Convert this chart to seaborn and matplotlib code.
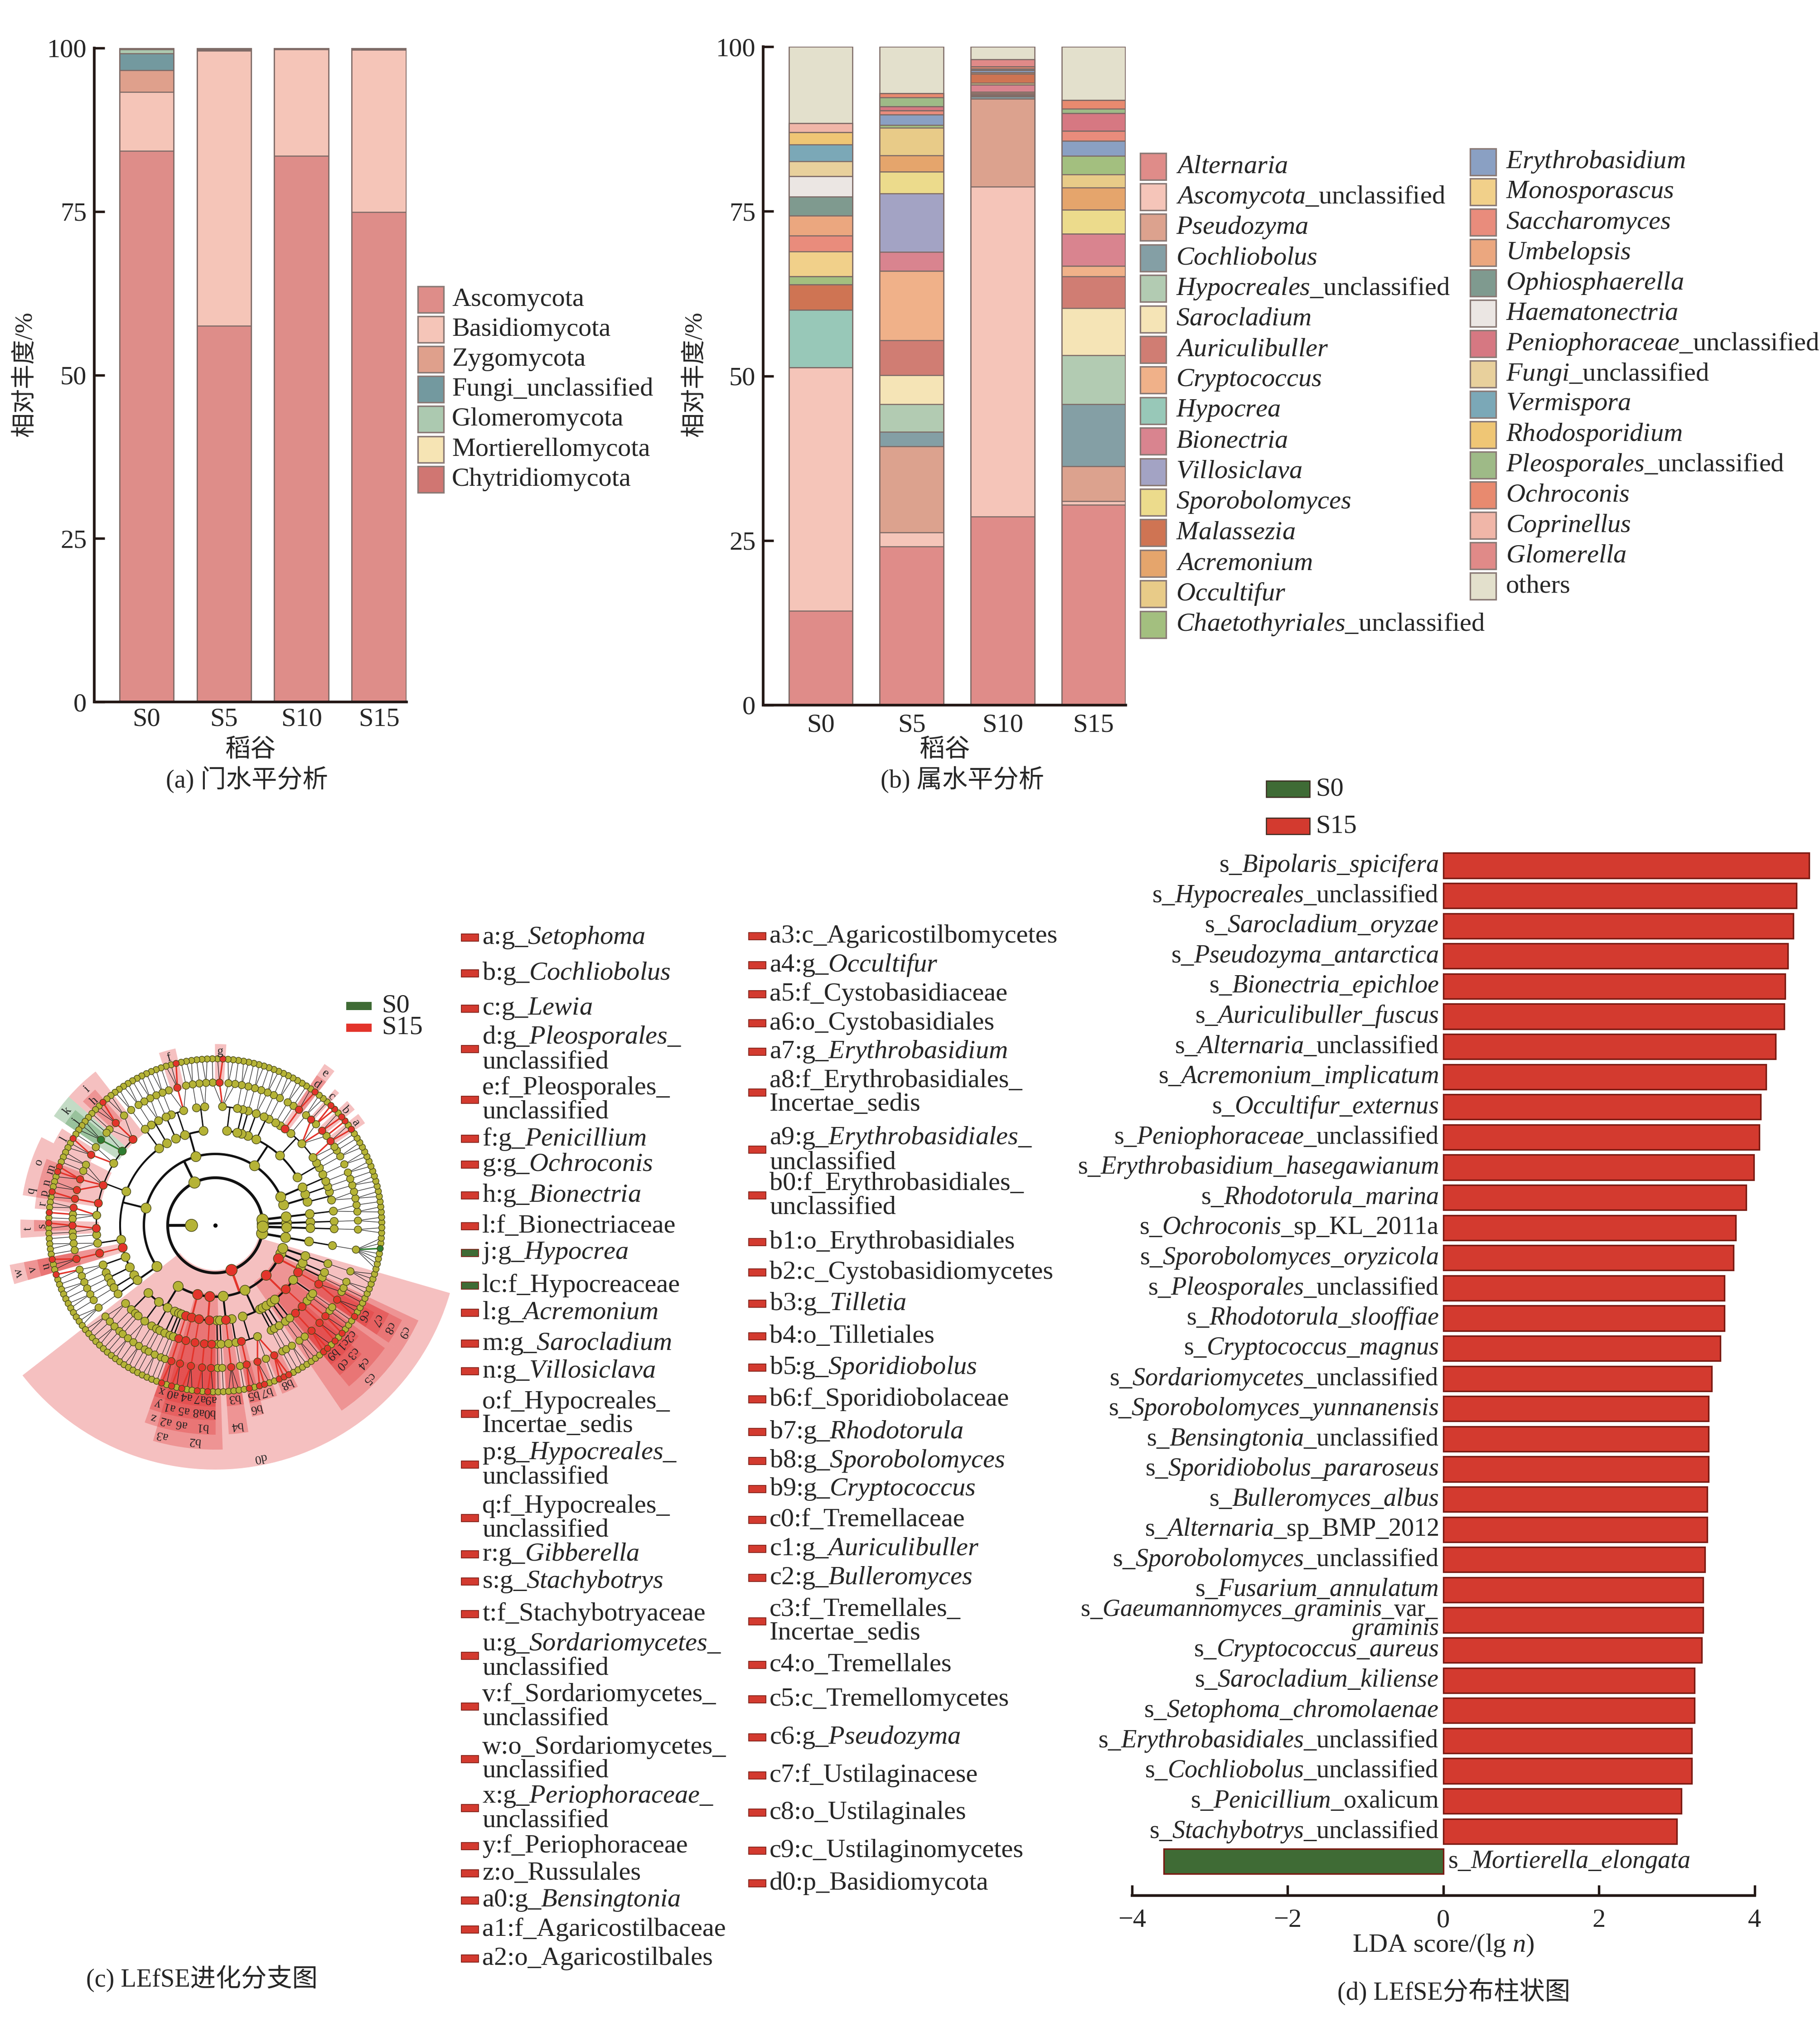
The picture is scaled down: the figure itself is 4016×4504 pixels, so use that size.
import numpy as np
import pandas as pd
import matplotlib
matplotlib.use("Agg")
import matplotlib.pyplot as plt
from matplotlib.patches import Rectangle, Wedge
import seaborn as sns

# ---------------- data ----------------
samples = ["S0", "S5", "S10", "S15"]

# (a) phylum level, relative abundance %
phyla = ["Ascomycota", "Basidiomycota", "Zygomycota", "Fungi_unclassified",
         "Glomeromycota", "Mortierellomycota", "Chytridiomycota"]
phylum_colors = ["#de8d89", "#f5c5b8", "#dfa08c", "#73999f", "#acc9b0", "#f6e4b4", "#d07672"]
phylum_S0 = [84.3, 9.0, 3.3, 2.6, 0.6, 0.1, 0.1]
phylum_S5 = [57.5, 42.1, 0.1, 0.1, 0.1, 0.1, 0.0]
phylum_S10 = [83.5, 16.3, 0.1, 0.1, 0.0, 0.0, 0.0]
phylum_S15 = [74.9, 24.8, 0.1, 0.1, 0.1, 0.0, 0.0]

# (b) genus level, relative abundance %  (*...* = italic)
genera = ["*Alternaria*", "*Ascomycota*_unclassified", "*Pseudozyma*", "*Cochliobolus*",
          "*Hypocreales*_unclassified", "*Sarocladium*", "*Auriculibuller*", "*Cryptococcus*",
          "*Hypocrea*", "*Bionectria*", "*Villosiclava*", "*Sporobolomyces*", "*Malassezia*",
          "*Acremonium*", "*Occultifur*", "*Chaetothyriales*_unclassified",
          "*Erythrobasidium*", "*Monosporascus*", "*Saccharomyces*", "*Umbelopsis*",
          "*Ophiosphaerella*", "*Haematonectria*", "*Peniophoraceae*_unclassified",
          "*Fungi*_unclassified", "*Vermispora*", "*Rhodosporidium*",
          "*Pleosporales*_unclassified", "*Ochroconis*", "*Coprinellus*", "*Glomerella*", "others"]
genus_colors = ["#df8c89", "#f5c5b9", "#dca28e", "#849fa5", "#b2cbb2", "#f5e4b6", "#d07d73",
                "#f0b189", "#98c8b8", "#d9848f", "#a3a3c4", "#ecdb8c", "#cf7453", "#e5a56c",
                "#e8cb88", "#a3bf7f", "#8aa0c3", "#f1d08a", "#e98c7c", "#eba77f", "#7f9a8f",
                "#ebe6e3", "#d67882", "#e8d09c", "#7ba8b7", "#efc675", "#9eba87", "#e88a6f",
                "#f0b6a8", "#e08a88", "#e3e0cc"]
genus_S0 = [14.3, 37.0, 0, 0, 0, 0, 0, 0, 8.7, 0, 0, 0, 3.9, 0, 0, 1.2,
            0, 3.8, 2.4, 3.0, 2.9, 3.1, 0, 2.3, 2.5, 1.9, 0, 0, 1.4, 0, 11.6]
genus_S5 = [24.1, 2.1, 13.1, 2.2, 4.2, 4.4, 5.3, 10.5, 0, 2.9, 8.9, 3.3, 0, 2.5, 4.2, 0.4,
            1.6, 0, 0.6, 0, 0, 0, 0.6, 0, 0, 0, 1.4, 0.6, 0, 0, 7.1]
genus_S10 = [28.6, 50.1, 13.4, 0.3, 0.2, 0.1, 0.2, 0.2, 0, 1.1, 0, 0.3, 1.4, 0.2, 0, 0,
             0.3, 0, 0, 0, 0, 0, 0, 0, 0.2, 0, 0, 0.4, 0, 1.1, 1.9]
genus_S15 = [30.4, 0.6, 5.3, 9.4, 7.4, 7.2, 4.8, 1.6, 0, 4.9, 0, 3.6, 0, 3.4, 2.0, 2.8,
             2.3, 0, 1.5, 0, 0, 0, 2.7, 0, 0, 0, 0.7, 1.3, 0, 0, 8.1]

# (c) cladogram: phylum, class, order, family, genus, number of species
fungal_genera = [
    ("Chytridiomycota", "Chytridiomycetes", "Rhizophydiales", "Rhizophydiaceae", "Rhizophydium", 2),
    ("Glomeromycota", "Glomeromycetes", "Glomerales", "Glomeraceae", "Glomus", 2),
    ("Glomeromycota", "Glomeromycetes", "Glomerales", "Glomeraceae", "Rhizophagus", 1),
    ("Ascomycota", "Leotiomycetes", "Helotiales", "Helotiaceae", "Cadophora", 2),
    ("Ascomycota", "Leotiomycetes", "Helotiales", "Helotiaceae", "Hymenoscyphus", 1),
    ("Ascomycota", "Leotiomycetes", "Helotiales", "Helotiales_unclassified", "Helotiales_unclassified", 2),
    ("Ascomycota", "Leotiomycetes", "Erysiphales", "Erysiphaceae", "Erysiphe", 1),
    ("Ascomycota", "Saccharomycetes", "Saccharomycetales", "Saccharomycetaceae", "Saccharomyces", 2),
    ("Ascomycota", "Saccharomycetes", "Saccharomycetales", "Debaryomycetaceae", "Candida", 2),
    ("Ascomycota", "Dothideomycetes", "Capnodiales", "Cladosporiaceae", "Cladosporium", 2),
    ("Ascomycota", "Dothideomycetes", "Capnodiales", "Mycosphaerellaceae", "Mycosphaerella", 1),
    ("Ascomycota", "Dothideomycetes", "Pleosporales", "Phaeosphaeriaceae", "Phaeosphaeria", 1),
    ("Ascomycota", "Dothideomycetes", "Pleosporales", "Phaeosphaeriaceae", "Setophoma", 2),
    ("Ascomycota", "Dothideomycetes", "Pleosporales", "Pleosporaceae", "Bipolaris", 1),
    ("Ascomycota", "Dothideomycetes", "Pleosporales", "Pleosporaceae", "Cochliobolus", 2),
    ("Ascomycota", "Dothideomycetes", "Pleosporales", "Pleosporaceae", "Alternaria", 2),
    ("Ascomycota", "Dothideomycetes", "Pleosporales", "Pleosporaceae", "Lewia", 1),
    ("Ascomycota", "Dothideomycetes", "Pleosporales", "Didymellaceae", "Epicoccum", 2),
    ("Ascomycota", "Dothideomycetes", "Pleosporales", "Pleosporales_unclassified", "Pleosporales_unclassified", 2),
    ("Ascomycota", "Dothideomycetes", "Pleosporales", "Lentitheciaceae", "Lentithecium", 1),
    ("Ascomycota", "Dothideomycetes", "Pleosporales", "Didymosphaeriaceae", "Paraconiothyrium", 2),
    ("Ascomycota", "Dothideomycetes", "Dothideales", "Saccotheciaceae", "Aureobasidium", 2),
    ("Ascomycota", "Dothideomycetes", "Dothideales", "Dothideaceae", "Dothiora", 1),
    ("Ascomycota", "Dothideomycetes", "Botryosphaeriales", "Botryosphaeriaceae", "Botryosphaeria", 2),
    ("Ascomycota", "Dothideomycetes", "Botryosphaeriales", "Botryosphaeriaceae", "Macrophomina", 1),
    ("Ascomycota", "Dothideomycetes", "Hysteriales", "Hysteriaceae", "Hysterobrevium", 2),
    ("Ascomycota", "Dothideomycetes", "Myriangiales", "Myriangiaceae", "Myriangium", 1),
    ("Ascomycota", "Dothideomycetes", "Venturiales", "Venturiaceae", "Venturia", 2),
    ("Ascomycota", "Dothideomycetes", "Venturiales", "Sympoventuriaceae", "Sympoventuria", 1),
    ("Ascomycota", "Dothideomycetes", "Venturiales", "Sympoventuriaceae", "Scolecobasidium", 2),
    ("Ascomycota", "Dothideomycetes", "Venturiales", "Sympoventuriaceae", "Ochroconis", 2),
    ("Ascomycota", "Dothideomycetes", "Venturiales", "Sympoventuriaceae", "Veronaeopsis", 1),
    ("Ascomycota", "Eurotiomycetes", "Chaetothyriales", "Herpotrichiellaceae", "Exophiala", 2),
    ("Ascomycota", "Eurotiomycetes", "Chaetothyriales", "Herpotrichiellaceae", "Cladophialophora", 1),
    ("Ascomycota", "Eurotiomycetes", "Chaetothyriales", "Chaetothyriales_unclassified", "Chaetothyriales_unclassified", 2),
    ("Ascomycota", "Eurotiomycetes", "Eurotiales", "Aspergillaceae", "Aspergillus", 1),
    ("Ascomycota", "Eurotiomycetes", "Eurotiales", "Aspergillaceae", "Penicillium", 3),
    ("Ascomycota", "Eurotiomycetes", "Eurotiales", "Aspergillaceae", "Monascus", 1),
    ("Ascomycota", "Eurotiomycetes", "Eurotiales", "Trichocomaceae", "Talaromyces", 2),
    ("Ascomycota", "Eurotiomycetes", "Onygenales", "Onygenaceae", "Chrysosporium", 1),
    ("Ascomycota", "Sordariomycetes", "Sordariales", "Chaetomiaceae", "Chaetomium", 2),
    ("Ascomycota", "Sordariomycetes", "Sordariales", "Chaetomiaceae", "Humicola", 1),
    ("Ascomycota", "Sordariomycetes", "Sordariales", "Lasiosphaeriaceae", "Podospora", 2),
    ("Ascomycota", "Sordariomycetes", "Glomerellales", "Glomerellaceae", "Colletotrichum", 2),
    ("Ascomycota", "Sordariomycetes", "Hypocreales", "Bionectriaceae", "Clonostachys", 2),
    ("Ascomycota", "Sordariomycetes", "Hypocreales", "Bionectriaceae", "Bionectria", 3),
    ("Ascomycota", "Sordariomycetes", "Hypocreales", "Bionectriaceae", "Stilbocrea", 1),
    ("Ascomycota", "Sordariomycetes", "Hypocreales", "Hypocreaceae", "Trichoderma", 1),
    ("Ascomycota", "Sordariomycetes", "Hypocreales", "Hypocreaceae", "Hypocrea", 3),
    ("Ascomycota", "Sordariomycetes", "Hypocreales", "Cordycipitaceae", "Beauveria", 1),
    ("Ascomycota", "Sordariomycetes", "Hypocreales", "Cordycipitaceae", "Acremonium", 3),
    ("Ascomycota", "Sordariomycetes", "Hypocreales", "Hypocreales_Incertae_sedis", "Emericellopsis", 2),
    ("Ascomycota", "Sordariomycetes", "Hypocreales", "Hypocreales_Incertae_sedis", "Myrothecium", 1),
    ("Ascomycota", "Sordariomycetes", "Hypocreales", "Hypocreales_Incertae_sedis", "Sarocladium", 3),
    ("Ascomycota", "Sordariomycetes", "Hypocreales", "Hypocreales_Incertae_sedis", "Villosiclava", 2),
    ("Ascomycota", "Sordariomycetes", "Hypocreales", "Hypocreales_unclassified", "Hypocreales_unclassified", 2),
    ("Ascomycota", "Sordariomycetes", "Hypocreales", "Nectriaceae", "Gibberella", 2),
    ("Ascomycota", "Sordariomycetes", "Hypocreales", "Nectriaceae", "Fusarium", 1),
    ("Ascomycota", "Sordariomycetes", "Hypocreales", "Nectriaceae", "Neonectria", 1),
    ("Ascomycota", "Sordariomycetes", "Hypocreales", "Stachybotryaceae", "Stachybotrys", 2),
    ("Ascomycota", "Sordariomycetes", "Hypocreales", "Stachybotryaceae", "Memnoniella", 1),
    ("Ascomycota", "Sordariomycetes", "Hypocreales", "Clavicipitaceae", "Metarhizium", 1),
    ("Ascomycota", "Sordariomycetes", "Microascales", "Microascaceae", "Scedosporium", 2),
    ("Ascomycota", "Sordariomycetes", "Microascales", "Microascaceae", "Microascus", 1),
    ("Ascomycota", "Sordariomycetes", "Sordariomycetes_unclassified", "Sordariomycetes_unclassified", "Sordariomycetes_unclassified", 3),
    ("Ascomycota", "Sordariomycetes", "Magnaporthales", "Magnaporthaceae", "Gaeumannomyces", 2),
    ("Ascomycota", "Sordariomycetes", "Magnaporthales", "Magnaporthaceae", "Magnaporthiopsis", 1),
    ("Ascomycota", "Sordariomycetes", "Xylariales", "Xylariaceae", "Xylaria", 2),
    ("Ascomycota", "Sordariomycetes", "Xylariales", "Sporocadaceae", "Pestalotiopsis", 1),
    ("Ascomycota", "Sordariomycetes", "Xylariales", "Apiosporaceae", "Arthrinium", 2),
    ("Ascomycota", "Sordariomycetes", "Coniochaetales", "Coniochaetaceae", "Coniochaeta", 1),
    ("Ascomycota", "Ascomycota_unclassified", "Ascomycota_unclassified", "Ascomycota_unclassified", "Ascomycota_unclassified", 3),
    ("Basidiomycota", "Agaricomycetes", "Agaricales", "Psathyrellaceae", "Coprinellus", 2),
    ("Basidiomycota", "Agaricomycetes", "Agaricales", "Psathyrellaceae", "Psathyrella", 1),
    ("Basidiomycota", "Agaricomycetes", "Agaricales", "Agaricaceae", "Agaricus", 2),
    ("Basidiomycota", "Agaricomycetes", "Agaricales", "Tricholomataceae", "Clitocybe", 1),
    ("Basidiomycota", "Agaricomycetes", "Agaricales", "Strophariaceae", "Hypholoma", 1),
    ("Basidiomycota", "Agaricomycetes", "Cantharellales", "Ceratobasidiaceae", "Rhizoctonia", 2),
    ("Basidiomycota", "Agaricomycetes", "Cantharellales", "Ceratobasidiaceae", "Ceratobasidium", 1),
    ("Basidiomycota", "Agaricomycetes", "Polyporales", "Polyporaceae", "Trametes", 2),
    ("Basidiomycota", "Agaricomycetes", "Polyporales", "Meruliaceae", "Phlebia", 1),
    ("Basidiomycota", "Agaricomycetes", "Polyporales", "Phanerochaetaceae", "Phanerochaete", 1),
    ("Basidiomycota", "Agaricomycetes", "Trechisporales", "Hydnodontaceae", "Trechispora", 2),
    ("Basidiomycota", "Agaricomycetes", "Hymenochaetales", "Hymenochaetaceae", "Inonotus", 1),
    ("Basidiomycota", "Agaricomycetes", "Auriculariales", "Auriculariaceae", "Auricularia", 1),
    ("Basidiomycota", "Agaricomycetes", "Russulales", "Peniophoraceae", "Peniophoraceae_unclassified", 2),
    ("Basidiomycota", "Agaricostilbomycetes", "Agaricostilbales", "Agaricostilbaceae", "Bensingtonia", 2),
    ("Basidiomycota", "Cystobasidiomycetes", "Cystobasidiales", "Cystobasidiaceae", "Occultifur", 3),
    ("Basidiomycota", "Cystobasidiomycetes", "Erythrobasidiales", "Erythrobasidiales_Incertae_sedis", "Erythrobasidium", 2),
    ("Basidiomycota", "Cystobasidiomycetes", "Erythrobasidiales", "Erythrobasidiales_unclassified", "Erythrobasidiales_unclassified", 2),
    ("Basidiomycota", "Cystobasidiomycetes", "Cyphobasidiales", "Cyphobasidiaceae", "Cyphobasidium", 1),
    ("Basidiomycota", "Exobasidiomycetes", "Exobasidiales", "Exobasidiaceae", "Exobasidium", 1),
    ("Basidiomycota", "Exobasidiomycetes", "Tilletiales", "Tilletiaceae", "Tilletia", 3),
    ("Basidiomycota", "Exobasidiomycetes", "Entylomatales", "Entylomataceae", "Entyloma", 1),
    ("Basidiomycota", "Microbotryomycetes", "Sporidiobolales", "Sporidiobolaceae", "Sporidiobolus", 2),
    ("Basidiomycota", "Microbotryomycetes", "Sporidiobolales", "Sporidiobolales_Incertae_sedis", "Rhodotorula", 3),
    ("Basidiomycota", "Microbotryomycetes", "Sporidiobolales", "Sporidiobolales_Incertae_sedis", "Rhodosporidium", 1),
    ("Basidiomycota", "Microbotryomycetes", "Sporidiobolales", "Sporidiobolales_Incertae_sedis", "Sporobolomyces", 3),
    ("Basidiomycota", "Microbotryomycetes", "Leucosporidiales", "Leucosporidiaceae", "Leucosporidium", 1),
    ("Basidiomycota", "Microbotryomycetes", "Microbotryales", "Microbotryaceae", "Microbotryum", 1),
    ("Basidiomycota", "Microbotryomycetes", "Kriegeriales", "Kriegeriaceae", "Kriegeria", 2),
    ("Basidiomycota", "Tremellomycetes", "Filobasidiales", "Filobasidiaceae", "Filobasidium", 2),
    ("Basidiomycota", "Tremellomycetes", "Cystofilobasidiales", "Mrakiaceae", "Mrakia", 1),
    ("Basidiomycota", "Tremellomycetes", "Tremellales", "Tremellaceae", "Cryptococcus", 3),
    ("Basidiomycota", "Tremellomycetes", "Tremellales", "Tremellales_Incertae_sedis", "Auriculibuller", 2),
    ("Basidiomycota", "Tremellomycetes", "Tremellales", "Bulleribasidiaceae", "Bulleromyces", 2),
    ("Basidiomycota", "Tremellomycetes", "Tremellales", "Trimorphomycetaceae", "Saitozyma", 1),
    ("Basidiomycota", "Tremellomycetes", "Trichosporonales", "Trichosporonaceae", "Trichosporon", 1),
    ("Basidiomycota", "Ustilaginomycetes", "Ustilaginales", "Ustilaginaceae", "Pseudozyma", 3),
    ("Basidiomycota", "Ustilaginomycetes", "Ustilaginales", "Ustilaginaceae", "Ustilago", 1),
    ("Basidiomycota", "Ustilaginomycetes", "Urocystidales", "Urocystidaceae", "Urocystis", 1),
    ("Basidiomycota", "Wallemiomycetes", "Wallemiales", "Wallemiaceae", "Wallemia", 2),
    ("Basidiomycota", "Basidiomycota_unclassified", "Basidiomycota_unclassified", "Basidiomycota_unclassified", "Basidiomycota_unclassified", 3),
    ("Mortierellomycota", "Mortierellomycetes", "Mortierellales", "Mortierellaceae", "Mortierella", 7),
    ("Mucoromycota", "Mucoromycetes", "Mucorales", "Mucoraceae", "Mucor", 2),
]
# biomarker clades: label, rank, taxon, enriched group
clade_marks = [
    ("a", "g", "Setophoma", "S15"), ("b", "g", "Cochliobolus", "S15"), ("c", "g", "Lewia", "S15"),
    ("d", "g", "Pleosporales_unclassified", "S15"), ("e", "f", "Pleosporales_unclassified", "S15"),
    ("f", "g", "Penicillium", "S15"), ("g", "g", "Ochroconis", "S15"), ("h", "g", "Bionectria", "S15"),
    ("i", "f", "Bionectriaceae", "S15"), ("j", "g", "Hypocrea", "S0"), ("k", "f", "Hypocreaceae", "S0"),
    ("l", "g", "Acremonium", "S15"), ("m", "g", "Sarocladium", "S15"), ("n", "g", "Villosiclava", "S15"),
    ("o", "f", "Hypocreales_Incertae_sedis", "S15"), ("p", "g", "Hypocreales_unclassified", "S15"),
    ("q", "f", "Hypocreales_unclassified", "S15"), ("r", "g", "Gibberella", "S15"),
    ("s", "g", "Stachybotrys", "S15"), ("t", "f", "Stachybotryaceae", "S15"),
    ("u", "g", "Sordariomycetes_unclassified", "S15"), ("v", "f", "Sordariomycetes_unclassified", "S15"),
    ("w", "o", "Sordariomycetes_unclassified", "S15"), ("x", "g", "Peniophoraceae_unclassified", "S15"),
    ("y", "f", "Peniophoraceae", "S15"), ("z", "o", "Russulales", "S15"),
    ("a0", "g", "Bensingtonia", "S15"), ("a1", "f", "Agaricostilbaceae", "S15"),
    ("a2", "o", "Agaricostilbales", "S15"), ("a3", "c", "Agaricostilbomycetes", "S15"),
    ("a4", "g", "Occultifur", "S15"), ("a5", "f", "Cystobasidiaceae", "S15"),
    ("a6", "o", "Cystobasidiales", "S15"), ("a7", "g", "Erythrobasidium", "S15"),
    ("a8", "f", "Erythrobasidiales_Incertae_sedis", "S15"), ("a9", "g", "Erythrobasidiales_unclassified", "S15"),
    ("b0", "f", "Erythrobasidiales_unclassified", "S15"), ("b1", "o", "Erythrobasidiales", "S15"),
    ("b2", "c", "Cystobasidiomycetes", "S15"), ("b3", "g", "Tilletia", "S15"), ("b4", "o", "Tilletiales", "S15"),
    ("b5", "g", "Sporidiobolus", "S15"), ("b6", "f", "Sporidiobolaceae", "S15"),
    ("b7", "g", "Rhodotorula", "S15"), ("b8", "g", "Sporobolomyces", "S15"),
    ("b9", "g", "Cryptococcus", "S15"), ("c0", "f", "Tremellaceae", "S15"),
    ("c1", "g", "Auriculibuller", "S15"), ("c2", "g", "Bulleromyces", "S15"),
    ("c3", "f", "Tremellales_Incertae_sedis", "S15"), ("c4", "o", "Tremellales", "S15"),
    ("c5", "c", "Tremellomycetes", "S15"), ("c6", "g", "Pseudozyma", "S15"),
    ("c7", "f", "Ustilaginaceae", "S15"), ("c8", "o", "Ustilaginales", "S15"),
    ("c9", "c", "Ustilaginomycetes", "S15"), ("d0", "p", "Basidiomycota", "S15"),
]
# species-level biomarkers: number of S15 species per genus, S0 species position
s15_species = {"Setophoma": 1, "Bipolaris": 1, "Cochliobolus": 1, "Alternaria": 2,
               "Pleosporales_unclassified": 1, "Ochroconis": 1, "Penicillium": 1, "Bionectria": 1,
               "Acremonium": 1, "Sarocladium": 2, "Hypocreales_unclassified": 1, "Fusarium": 1,
               "Stachybotrys": 1, "Sordariomycetes_unclassified": 1, "Gaeumannomyces": 1,
               "Peniophoraceae_unclassified": 1, "Bensingtonia": 1, "Occultifur": 1,
               "Erythrobasidium": 1, "Erythrobasidiales_unclassified": 1, "Sporidiobolus": 1,
               "Rhodotorula": 2, "Sporobolomyces": 3, "Cryptococcus": 2, "Auriculibuller": 1,
               "Bulleromyces": 1, "Pseudozyma": 1}
s0_species = {"Mortierella": 4}

clade_list_col1 = ["a:g_*Setophoma*", "b:g_*Cochliobolus*", "c:g_*Lewia*",
                   "d:g_*Pleosporales*_\nunclassified", "e:f_Pleosporales_\nunclassified",
                   "f:g_*Penicillium*", "g:g_*Ochroconis*", "h:g_*Bionectria*", "l:f_Bionectriaceae",
                   "j:g_*Hypocrea*", "lc:f_Hypocreaceae", "l:g_*Acremonium*", "m:g_*Sarocladium*",
                   "n:g_*Villosiclava*", "o:f_Hypocreales_\nIncertae_sedis",
                   "p:g_*Hypocreales*_\nunclassified", "q:f_Hypocreales_\nunclassified",
                   "r:g_*Gibberella*", "s:g_*Stachybotrys*", "t:f_Stachybotryaceae",
                   "u:g_*Sordariomycetes*_\nunclassified", "v:f_Sordariomycetes_\nunclassified",
                   "w:o_Sordariomycetes_\nunclassified", "x:g_*Periophoraceae*_\nunclassified",
                   "y:f_Periophoraceae", "z:o_Russulales", "a0:g_*Bensingtonia*",
                   "a1:f_Agaricostilbaceae", "a2:o_Agaricostilbales"]
clade_list_col2 = ["a3:c_Agaricostilbomycetes", "a4:g_*Occultifur*", "a5:f_Cystobasidiaceae",
                   "a6:o_Cystobasidiales", "a7:g_*Erythrobasidium*",
                   "a8:f_Erythrobasidiales_\nIncertae_sedis", "a9:g_*Erythrobasidiales*_\nunclassified",
                   "b0:f_Erythrobasidiales_\nunclassified", "b1:o_Erythrobasidiales",
                   "b2:c_Cystobasidiomycetes", "b3:g_*Tilletia*", "b4:o_Tilletiales",
                   "b5:g_*Sporidiobolus*", "b6:f_Sporidiobolaceae", "b7:g_*Rhodotorula*",
                   "b8:g_*Sporobolomyces*", "b9:g_*Cryptococcus*", "c0:f_Tremellaceae",
                   "c1:g_*Auriculibuller*", "c2:g_*Bulleromyces*", "c3:f_Tremellales_\nIncertae_sedis",
                   "c4:o_Tremellales", "c5:c_Tremellomycetes", "c6:g_*Pseudozyma*",
                   "c7:f_Ustilaginacese", "c8:o_Ustilaginales", "c9:c_Ustilaginomycetes",
                   "d0:p_Basidiomycota"]
clade_list_s0 = ["j:g_*Hypocrea*", "lc:f_Hypocreaceae"]

# (d) LDA scores
lda_labels = ["s_*Bipolaris_spicifera*", "s_*Hypocreales*_unclassified", "s_*Sarocladium_oryzae*",
              "s_*Pseudozyma_antarctica*", "s_*Bionectria_epichloe*", "s_*Auriculibuller_fuscus*",
              "s_*Alternaria*_unclassified", "s_*Acremonium_implicatum*", "s_*Occultifur_externus*",
              "s_*Peniophoraceae*_unclassified", "s_*Erythrobasidium_hasegawianum*",
              "s_*Rhodotorula_marina*", "s_*Ochroconis*_sp_KL_2011a", "s_*Sporobolomyces_oryzicola*",
              "s_*Pleosporales*_unclassified", "s_*Rhodotorula_slooffiae*", "s_*Cryptococcus_magnus*",
              "s_*Sordariomycetes*_unclassified", "s_*Sporobolomyces_yunnanensis*",
              "s_*Bensingtonia*_unclassified", "s_*Sporidiobolus_pararoseus*", "s_*Bulleromyces_albus*",
              "s_*Alternaria*_sp_BMP_2012", "s_*Sporobolomyces*_unclassified", "s_*Fusarium_annulatum*",
              "s_*Gaeumannomyces_graminis*_var_\n*graminis*", "s_*Cryptococcus_aureus*",
              "s_*Sarocladium_kiliense*", "s_*Setophoma_chromolaenae*",
              "s_*Erythrobasidiales*_unclassified", "s_*Cochliobolus*_unclassified",
              "s_*Penicillium*_oxalicum", "s_*Stachybotrys*_unclassified", "s_*Mortierella_elongata*"]
lda_scores = [4.70, 4.54, 4.50, 4.43, 4.39, 4.38, 4.27, 4.15, 4.08, 4.06, 3.99, 3.89, 3.76, 3.73,
              3.61, 3.61, 3.56, 3.45, 3.41, 3.41, 3.41, 3.39, 3.39, 3.36, 3.34, 3.34, 3.32, 3.23,
              3.23, 3.19, 3.19, 3.06, 3.00, -3.59]
lda_groups = ["S15"] * 33 + ["S0"]

# layout: vertical centres (px) of the clade key entries
list_y_col1 = [2069, 2148, 2226, 2315, 2427, 2513, 2570, 2638, 2706, 2765, 2837, 2897, 2965, 3026,
               3120, 3232, 3350, 3430, 3490, 3562, 3654, 3766, 3882, 3990, 4074, 4134, 4194, 4258, 4322]
list_y_col2 = [2066, 2130, 2194, 2258, 2321, 2411, 2537, 2638, 2741, 2808, 2877, 2949, 3018, 3088,
               3160, 3224, 3286, 3354, 3418, 3482, 3578, 3674, 3750, 3834, 3918, 4000, 4084, 4156]

# ---------------- style ----------------
sns.set_theme(style="white")
plt.rcParams["font.family"] = ["Liberation Serif", "Noto Sans CJK SC"]
plt.rcParams["mathtext.fontset"] = "custom"
plt.rcParams["mathtext.rm"] = "Liberation Serif"
plt.rcParams["mathtext.it"] = "Liberation Serif:italic"
plt.rcParams["mathtext.bf"] = "Liberation Serif:bold"

AXC = "#231815"
BAR_EDGE = "#7d6a66"
RED = "#d33a2f"
GREEN = "#3f6b35"
OLIVE = "#b5b336"


def it(s):
    parts = s.split("*")
    out = ""
    for k, p in enumerate(parts):
        out += (r"$\mathit{" + p.replace("_", r"\_") + "}$") if k % 2 else p
    return out


W, H, DPI = 4016, 4504, 300
fig = plt.figure(figsize=(W / DPI, H / DPI), dpi=DPI)
fig.patch.set_facecolor("white")


def box(x0, y0, x1, y1):
    return [x0 / W, 1 - y1 / H, (x1 - x0) / W, (y1 - y0) / H]


def stacked_bars(ax, table, colors):
    cum = np.cumsum(np.array(table, dtype=float), axis=1)
    for k in range(cum.shape[1] - 1, -1, -1):
        sns.barplot(x=samples, y=cum[:, k], color=colors[k], width=0.7, saturation=1,
                    errorbar=None, edgecolor=BAR_EDGE, linewidth=0.6, ax=ax)


def style_abundance_axis(ax, xlim, xpad):
    ax.set_xlim(*xlim)
    ax.set_ylim(0, 100)
    ax.set_yticks([0, 25, 50, 75, 100])
    for s in ("top", "right"):
        ax.spines[s].set_visible(False)
    for s in ("left", "bottom"):
        ax.spines[s].set_color(AXC)
        ax.spines[s].set_linewidth(1.4)
    ax.tick_params(axis="y", left=True, direction="in", length=5.5, width=1.3,
                   color=AXC, labelsize=14, pad=4)
    ax.tick_params(axis="x", bottom=False, length=0, labelsize=14, pad=xpad)
    ax.set_xlabel("")
    ax.set_ylabel("")
    ax.set_facecolor("none")


# (a)
ax_a = fig.add_axes(box(208, 106, 897, 1549))
stacked_bars(ax_a, [phylum_S0, phylum_S5, phylum_S10, phylum_S15], phylum_colors)
style_abundance_axis(ax_a, (-0.676, 3.357), 3)

# (b)
ax_b = fig.add_axes(box(1684, 103, 2484, 1556))
stacked_bars(ax_b, [genus_S0, genus_S5, genus_S10, genus_S15], genus_colors)
style_abundance_axis(ax_b, (-0.633, 3.354), 4.5)

# (c) cladogram
ax_c = fig.add_axes(box(0, 2150, 1000, 3250))
cx, cy = 475, 2704
RADII = [52.5 * (L + 1) for L in range(7)]
LABEL_R = {1: 522, 2: 478, 3: 445, 4: 413, 5: 383}
RANKS = "kpcofgs"

paths = []
for ph, cl, od, fa, ge, n in fungal_genera:
    for k in range(n):
        paths.append(("Fungi", ph, cl, od, fa, ge, f"{ge}#{k}"))
N = len(paths)
step = 360.0 / N
leaf_theta = 1.0 + step * np.arange(N)

nodes, keys = {}, []
for i, p in enumerate(paths):
    for L in range(7):
        key = p[:L + 1]
        if key not in nodes:
            nodes[key] = {"level": L, "first": i, "last": i, "kids": [], "state": "none", "label": None}
            keys.append(key)
            if L > 0:
                nodes[p[:L]]["kids"].append(key)
        nodes[key]["last"] = i
for key in reversed(keys):
    nd = nodes[key]
    if nd["level"] == 6:
        nd["theta"] = leaf_theta[nd["first"]]
    else:
        kt = [nodes[c]["theta"] for c in nd["kids"]]
        nd["theta"] = 0.5 * (min(kt) + max(kt))

for lab, rank, name, grp in clade_marks:
    L = RANKS.index(rank)
    for key in keys:
        if len(key) == L + 1 and key[-1] == name:
            nodes[key]["state"] = grp
            nodes[key]["label"] = lab
for key in keys:
    if nodes[key]["level"] == 5:
        g = key[-1]
        kids = nodes[key]["kids"]
        for c in kids[:s15_species.get(g, 0)]:
            nodes[c]["state"] = "S15"
        if g in s0_species:
            nodes[kids[s0_species[g]]]["state"] = "S0"


def pxy(r, th):
    t = np.radians(th)
    return cx + r * np.cos(t), cy - r * np.sin(t)


state_col = {"none": "#222222", "S15": "#e3342b", "S0": "#2f7d32"}
wedge_col = {"S15": "#e03030", "S0": "#3a8a3f"}

# highlighted sectors and their labels
for key in keys:
    nd = nodes[key]
    if nd["label"] is None:
        continue
    L = nd["level"]
    t1 = leaf_theta[nd["first"]] - step / 2
    t2 = leaf_theta[nd["last"]] + step / 2
    r_in = RADII[L] - 6
    r_out = LABEL_R[L] + 17
    ax_c.add_patch(Wedge((cx, cy), r_out, -t2, -t1, width=r_out - r_in,
                         facecolor=wedge_col[nd["state"]], alpha=0.3, lw=0, zorder=0))
    lx, ly = pxy(LABEL_R[L], 0.5 * (t1 + t2))
    ax_c.text(lx, ly, nd["label"], fontsize=6.5, ha="center", va="center",
              rotation=0.5 * (t1 + t2) - 90, color="#222222", zorder=5)

# branches
ARC_LW = {0: 1.5, 1: 1.25, 2: 1.0, 3: 0.7}
for key in keys:
    nd = nodes[key]
    L = nd["level"]
    if L == 6:
        continue
    kids = nd["kids"]
    if L <= 3:
        col = state_col[nd["state"]] if nd["state"] != "none" else "#111111"
        x0, y0 = pxy(RADII[L], nd["theta"])
        x1, y1 = pxy(RADII[L + 1], nd["theta"])
        ax_c.plot([x0, x1], [y0, y1], color=col, lw=ARC_LW[L], zorder=1, solid_capstyle="butt")
        kt = [nodes[c]["theta"] for c in kids]
        ta, tb = min(kt + [nd["theta"]]), max(kt + [nd["theta"]])
        if tb - ta > 0.01:
            tt = np.linspace(ta, tb, int((tb - ta) / 0.4) + 2)
            ax, ay = pxy(RADII[L + 1], tt)
            ax_c.plot(ax, ay, color="#111111", lw=ARC_LW[L], zorder=1)
    else:
        x0, y0 = pxy(RADII[L], nd["theta"])
        for c in kids:
            x1, y1 = pxy(RADII[L + 1], nodes[c]["theta"])
            st = nodes[c]["state"]
            ax_c.plot([x0, x1], [y0, y1], color=state_col[st],
                      lw=0.3 if st == "none" else 0.8, zorder=1 if st == "none" else 2)

node_df = pd.DataFrame([{"x": pxy(RADII[nodes[k]["level"]], nodes[k]["theta"])[0],
                         "y": pxy(RADII[nodes[k]["level"]], nodes[k]["theta"])[1],
                         "state": nodes[k]["state"], "level": nodes[k]["level"]} for k in keys])
node_df["rank_order"] = node_df["state"].map({"none": 0, "S15": 1, "S0": 1})
node_df = node_df.sort_values(["rank_order", "level"], ascending=[True, False])
sns.scatterplot(data=node_df, x="x", y="y", hue="state", hue_order=["none", "S15", "S0"],
                palette=[OLIVE, "#e3342b", "#2f7d32"], size="level",
                sizes={0: 42, 1: 36, 2: 28, 3: 22, 4: 18, 5: 15, 6: 11},
                edgecolor="#4a4a18", linewidth=0.35, legend=False, ax=ax_c, zorder=3)
ax_c.scatter([cx], [cy], s=1.5, color="black", zorder=4)
ax_c.set_xlim(0, 1000)
ax_c.set_ylim(3250, 2150)
ax_c.axis("off")

# (d) LDA bars
ax_d = fig.add_axes(box(2395, 1870, 4009, 4183))
lda_df = pd.DataFrame({"name": [f"row{i}" for i in range(len(lda_scores))],
                       "score": lda_scores, "group": lda_groups})
sns.barplot(data=lda_df, x="score", y="name", hue="group", hue_order=["S0", "S15"],
            palette=[GREEN, RED], dodge=False, saturation=1, width=0.83, orient="h",
            edgecolor="#7a1a12", linewidth=0.8, legend=False, errorbar=None, ax=ax_d)
ax_d.set_xlim(-4.6, 4.8)
ax_d.set_ylim(34.13, -0.6)
ax_d.set_yticks([])
ax_d.set_xticks([-4, -2, 0, 2, 4])
ax_d.set_xlabel("")
ax_d.set_ylabel("")
for s in ("top", "right", "left"):
    ax_d.spines[s].set_visible(False)
ax_d.spines["bottom"].set_bounds(-4, 4)
ax_d.spines["bottom"].set_color(AXC)
ax_d.spines["bottom"].set_linewidth(1.4)
ax_d.tick_params(axis="x", bottom=True, direction="in", length=5.5, width=1.3, color=AXC,
                 labelsize=14, pad=7)
ax_d.set_facecolor("none")
for i, (lab, sc) in enumerate(zip(lda_labels, lda_scores)):
    if sc < 0:
        ax_d.text(0.06, i, it(lab), ha="left", va="center", fontsize=13.5)
    elif "\n" in lab:
        ax_d.text(-0.06, i, it(lab), ha="right", va="center", fontsize=13, linespacing=0.72)
    else:
        ax_d.text(-0.06, i, it(lab), ha="right", va="center", fontsize=13.5)

# ---------------- overlay: legends, labels, captions ----------------
ov = fig.add_axes([0, 0, 1, 1])
ov.set_xlim(0, W)
ov.set_ylim(H, 0)
ov.axis("off")
ov.patch.set_visible(False)

LEG_EDGE = "#8a7a76"
for i, (name, col) in enumerate(zip(phyla, phylum_colors)):
    y = 661 + 66.1 * i
    ov.add_patch(Rectangle((922, y - 29), 57, 58, facecolor=col, edgecolor=LEG_EDGE, lw=0.8))
    ov.text(997, y, name, ha="left", va="center", fontsize=14)

for i, (name, col) in enumerate(zip(genera, genus_colors)):
    if i < 16:
        x, y = 2516, 367 + 67.4 * i
    else:
        x, y = 3244, 357 + 66.9 * (i - 16)
    ov.add_patch(Rectangle((x, y - 29.5), 57, 59, facecolor=col, edgecolor=LEG_EDGE, lw=0.8))
    ov.text(x + 79, y, it(name), ha="left", va="center", fontsize=14)

for x, txt in ((57, "相对丰度/%"), (1535, "相对丰度/%")):
    ov.text(x, 826, txt, rotation=90, ha="center", va="center", fontsize=13)
ov.text(552, 1656, "稻谷", ha="center", va="center", fontsize=13.5)
ov.text(2084, 1656, "稻谷", ha="center", va="center", fontsize=13.5)
ov.text(545, 1720, "(a) 门水平分析", ha="center", va="center", fontsize=13.5)
ov.text(2123, 1720, "(b) 属水平分析", ha="center", va="center", fontsize=13.5)

# cladogram legend
for y, grp, col in ((2220, "S0", GREEN), (2268, "S15", "#e3342b")):
    ov.add_patch(Rectangle((764, y - 9), 56, 18, facecolor=col, edgecolor="none"))
    ov.text(842, y, grp, ha="left", va="center", fontsize=14)

for entries, ys, px in ((clade_list_col1, list_y_col1, 1018), (clade_list_col2, list_y_col2, 1652)):
    for e, y in zip(entries, ys):
        col = GREEN if e in clade_list_s0 else RED
        ov.add_patch(Rectangle((px, y - 8), 38, 16, facecolor=col, edgecolor="#7a1a12", lw=0.4))
        ov.text(px + 46, y, it(e), ha="left", va="center", fontsize=14, linespacing=1.0)
ov.text(445, 4366, "(c) LEfSE进化分支图", ha="center", va="center", fontsize=13.5)

# LDA legend and labels
for y, grp, col in ((1741, "S0", GREEN), (1823, "S15", RED)):
    ov.add_patch(Rectangle((2794, y - 18), 96, 36, facecolor=col, edgecolor="#3a2a20", lw=0.6))
    ov.text(2903, y, grp, ha="left", va="center", fontsize=14)
ov.text(3185, 4293, r"LDA score/(lg $\mathit{n}$)", ha="center", va="center", fontsize=14)
ov.text(3208, 4395, "(d) LEfSE分布柱状图", ha="center", va="center", fontsize=13.5)

fig.savefig("out.png", dpi=DPI)
